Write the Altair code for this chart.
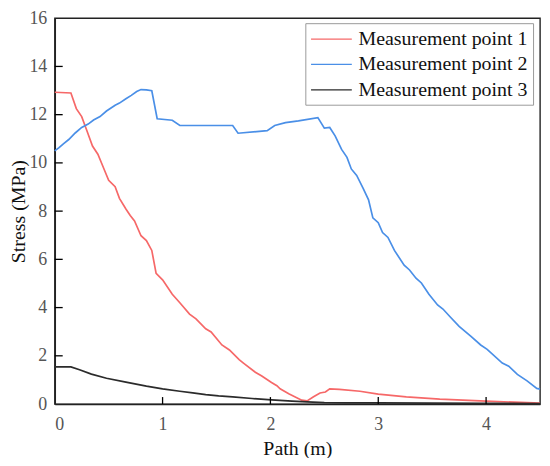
import altair as alt
import pandas as pd

series_names = ["Measurement point 1", "Measurement point 2", "Measurement point 3"]
series_colors = ["#F66868", "#4A8FE7", "#2B2B2B"]

red_x = [0, 0.15, 0.20, 0.25, 0.30, 0.35, 0.40, 0.45, 0.50, 0.56, 0.60, 0.66, 0.70, 0.74, 0.80,
         0.85, 0.90, 0.94, 1.00, 1.09, 1.16, 1.25, 1.31, 1.40, 1.45, 1.55, 1.62, 1.71, 1.75, 1.86,
         1.92, 2.01, 2.06, 2.09, 2.17, 2.29, 2.34, 2.40, 2.46, 2.51, 2.55, 2.64, 2.83, 3.00, 3.26,
         3.57, 4.00, 4.50]
red_y = [12.93, 12.90, 12.25, 11.92, 11.31, 10.70, 10.36, 9.82, 9.28, 9.01, 8.53, 8.09, 7.82, 7.59, 6.98,
         6.78, 6.37, 5.42, 5.15, 4.55, 4.20, 3.73, 3.53, 3.12, 2.99, 2.45, 2.24, 1.84, 1.70, 1.32,
         1.16, 0.89, 0.76, 0.63, 0.43, 0.16, 0.13, 0.30, 0.46, 0.50, 0.63, 0.61, 0.53, 0.41, 0.30,
         0.20, 0.12, 0.04]

blue_x = [0, 0.04, 0.08, 0.13, 0.19, 0.25, 0.31, 0.36, 0.42, 0.48, 0.56, 0.60, 0.66, 0.71, 0.76,
          0.80, 0.85, 0.90, 0.95, 1.09, 1.16, 1.65, 1.70, 1.97, 2.04, 2.14, 2.26, 2.44, 2.50, 2.55,
          2.60, 2.66, 2.71, 2.75, 2.80, 2.86, 2.91, 2.95, 3.00, 3.04, 3.09, 3.15, 3.24, 3.29, 3.35,
          3.40, 3.47, 3.55, 3.60, 3.67, 3.75, 3.86, 3.95, 4.01, 4.15, 4.21, 4.29, 4.38, 4.47, 4.50]
blue_y = [10.50, 10.63, 10.79, 10.97, 11.24, 11.47, 11.61, 11.78, 11.92, 12.15, 12.39, 12.48, 12.66, 12.80, 12.96,
          13.04, 13.03, 12.99, 11.83, 11.77, 11.55, 11.55, 11.23, 11.34, 11.55, 11.67, 11.74, 11.88, 11.44, 11.47,
          11.12, 10.56, 10.23, 9.75, 9.48, 8.94, 8.47, 7.72, 7.52, 7.11, 6.91, 6.37, 5.76, 5.56, 5.22,
          5.02, 4.55, 4.11, 3.94, 3.60, 3.22, 2.81, 2.45, 2.27, 1.70, 1.57, 1.23, 0.96, 0.65, 0.62]

black_x = [0, 0.15, 0.23, 0.34, 0.48, 0.66, 0.85, 1.00, 1.16, 1.28, 1.40, 1.52, 1.65, 1.83, 2.01,
           2.20, 2.34, 2.50, 2.70, 3.00, 3.50, 4.00, 4.50]
black_y = [1.54, 1.54, 1.42, 1.24, 1.07, 0.91, 0.74, 0.63, 0.53, 0.46, 0.39, 0.34, 0.30, 0.23, 0.17,
           0.12, 0.09, 0.06, 0.05, 0.05, 0.04, 0.03, 0.02]

x_ticks = [0, 1, 2, 3, 4]
y_ticks = [0, 2, 4, 6, 8, 10, 12, 14, 16]
x_inner_ticks = [1, 2, 3, 4]
y_inner_ticks = [2, 4, 6, 8, 10, 12, 14]

rows = []
for name, xs, ys in zip(series_names, [red_x, blue_x, black_x], [red_y, blue_y, black_y]):
    for i, (a, b) in enumerate(zip(xs, ys)):
        rows.append({"series": name, "path": a, "stress": b, "order": i})
df = pd.DataFrame(rows)

W, H = 488, 388
FONT = "Liberation Serif"

xscale = alt.Scale(domain=[0, 4.5], nice=False, zero=False)
yscale = alt.Scale(domain=[0, 16], nice=False)

lines = alt.Chart(df).mark_line(strokeWidth=1.7).encode(
    x=alt.X("path:Q", scale=xscale, title="Path (m)",
            axis=alt.Axis(values=x_ticks, format="d", ticks=False, labelPadding=12,
                          titleX=W / 2, titleY=45, titleBaseline="middle")),
    y=alt.Y("stress:Q", scale=yscale, title="Stress (MPa)",
            axis=alt.Axis(values=y_ticks, format="d", ticks=False, labelPadding=8,
                          titleX=-36, titleY=H / 2, titleBaseline="middle")),
    color=alt.Color("series:N",
                    scale=alt.Scale(domain=series_names, range=series_colors),
                    legend=alt.Legend(title=None, orient="none", legendX=252, legendY=5,
                                      symbolType="M-1,0H3", symbolSize=420, symbolStrokeWidth=1.3,
                                      labelFontSize=20, labelFont=FONT, labelColor="#111",
                                      labelLimit=400, labelOffset=26.5, rowPadding=4.5, padding=5,
                                      strokeColor="#9a9a9a", fillColor="white")),
    order="order:Q",
)

xt = pd.DataFrame({"t": x_inner_ticks})
yt = pd.DataFrame({"t": y_inner_ticks})

xtick_layer = alt.Chart(xt).mark_rule(color="black", strokeWidth=1.3).encode(
    x=alt.X("t:Q", scale=xscale), y=alt.value(H), y2=alt.value(H - 7))
ytick_layer = alt.Chart(yt).mark_rule(color="black", strokeWidth=1.3).encode(
    y=alt.Y("t:Q", scale=yscale), x=alt.value(0), x2=alt.value(8))

chart = alt.layer(lines, xtick_layer, ytick_layer).properties(
    width=W, height=H,
    autosize=alt.AutoSizeParams(type="none"),
    padding={"left": 47, "top": 9, "right": 2, "bottom": 53},
    background="white",
).configure_view(stroke="#222", strokeWidth=1.4).configure_axis(
    labelFont=FONT, titleFont=FONT, labelFontSize=18, titleFontSize=20,
    labelColor="#555", titleColor="#111", titleFontWeight="normal",
    domainColor="#222", domainWidth=1.6, grid=False,
)

chart.save("out.html", embed_options={"renderer": "svg", "actions": False})
